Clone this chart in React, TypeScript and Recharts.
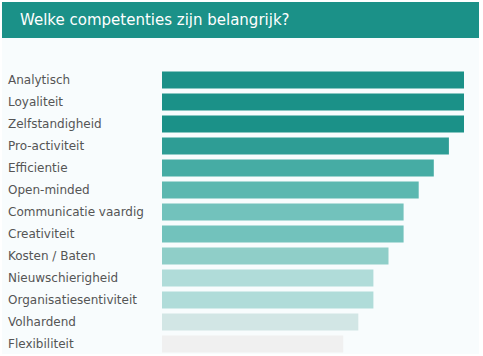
import React from "react";
import { BarChart, Bar, XAxis, YAxis, Cell } from "recharts";

const categories = [
  "Analytisch",
  "Loyaliteit",
  "Zelfstandigheid",
  "Pro-activiteit",
  "Efficientie",
  "Open-minded",
  "Communicatie vaardig",
  "Creativiteit",
  "Kosten / Baten",
  "Nieuwschierigheid",
  "Organisatiesentiviteit",
  "Volhardend",
  "Flexibiliteit",
];
const values = [20, 20, 20, 19, 18, 17, 16, 16, 15, 14, 14, 13, 12];
const colors = [
  "#1b9188",
  "#1b9188",
  "#1b9188",
  "#2e9d95",
  "#46aca4",
  "#5cb8b0",
  "#72c2bc",
  "#72c2bc",
  "#8fcec8",
  "#b0dcd9",
  "#b0dcd9",
  "#d2e6e5",
  "#f0f0f0",
];
const title = "Welke competenties zijn belangrijk?";

const data = categories.map((name, i) => ({ name, value: values[i] }));

const FONT = "'DejaVu Sans', Verdana, sans-serif";

const LeftTick = (props: any) => {
  const { y, payload } = props;
  return (
    <text x={8} y={y} dy={4.5} textAnchor="start" fontSize={12} fill="#555555" fontFamily={FONT}>
      {payload.value}
    </text>
  );
};

export default function App() {
  return (
    <div style={{ position: "absolute", left: 0, top: 0, width: 483, height: 356, background: "#ffffff" }}>
      <div style={{ position: "absolute", left: 2, top: 2, width: 477, height: 352, background: "#f8fcfd" }} />
      <div
        style={{
          position: "absolute",
          left: 2,
          top: 2,
          width: 477,
          height: 36,
          background: "#1b9188",
          color: "#ffffff",
          fontFamily: FONT,
          fontSize: 15,
          lineHeight: "36px",
          paddingLeft: 18,
          boxSizing: "border-box",
        }}
      >
        {title}
      </div>
      <div style={{ position: "absolute", left: 0, top: 0 }}>
        <BarChart
          width={483}
          height={356}
          data={data}
          layout="vertical"
          margin={{ top: 68.5, right: 19, bottom: 1.5, left: 0 }}
          barSize={17}
        >
          <XAxis type="number" domain={[0, 20]} hide />
          <YAxis
            type="category"
            dataKey="name"
            width={162}
            axisLine={false}
            tickLine={false}
            tick={<LeftTick />}
            interval={0}
          />
          <Bar dataKey="value" isAnimationActive={false}>
            {data.map((d, i) => (
              <Cell key={d.name} fill={colors[i]} />
            ))}
          </Bar>
        </BarChart>
      </div>
    </div>
  );
}
